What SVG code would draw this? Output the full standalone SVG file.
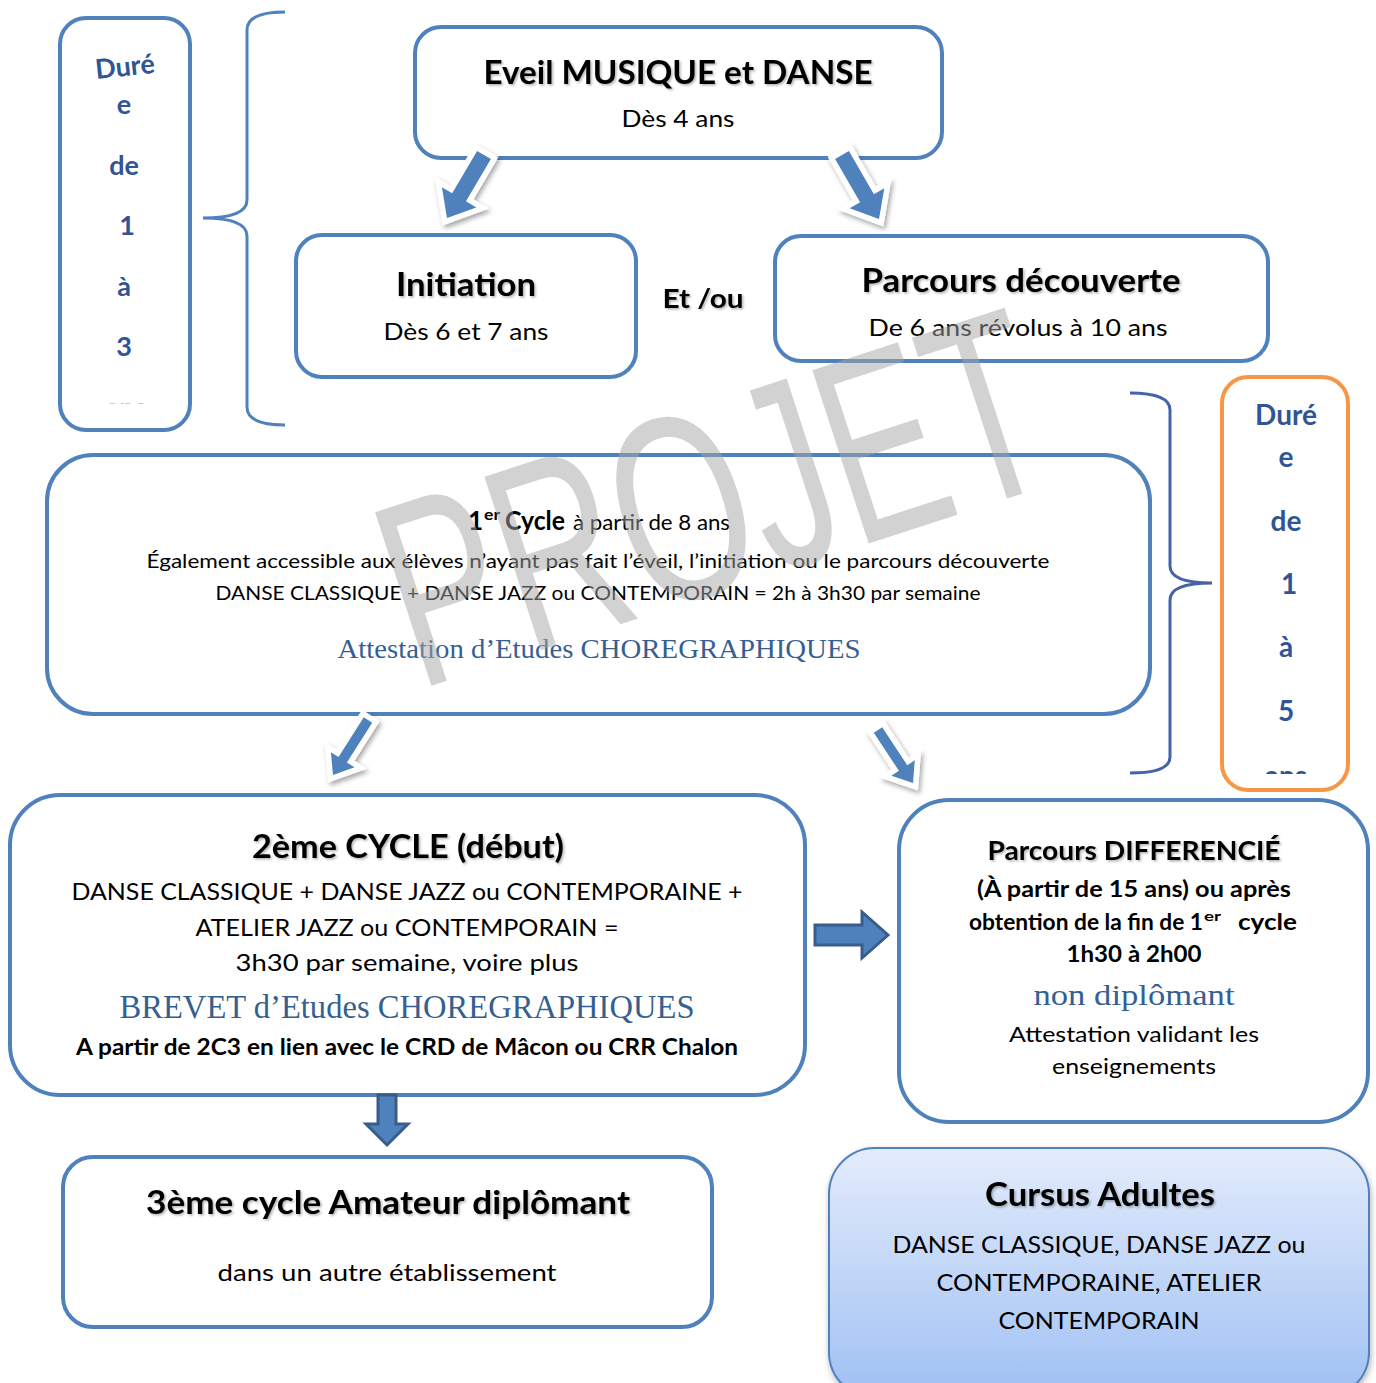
<svg xmlns="http://www.w3.org/2000/svg" width="1376" height="1383" viewBox="0 0 1376 1383">
<style>
.box{fill:#fff;stroke:#4f81bd;stroke-width:4}
.t{font-family:Lato,Carlito,'Liberation Sans',sans-serif;fill:#000;text-anchor:middle}
.st{text-anchor:start}
.b{font-weight:bold}
.h{font-size:32px;font-weight:bold;filter:url(#tsh)}
.s{font-family:'Liberation Serif',serif;fill:#365f91;text-anchor:middle}
.dur{font-family:Lato,Carlito,'Liberation Sans',sans-serif;font-weight:bold;fill:#2f5597;text-anchor:middle}
.br{fill:none;stroke-width:3}
.ba{fill:#4f81bd;stroke:#fff;stroke-width:11;paint-order:stroke;stroke-linejoin:miter;filter:url(#ash)}
.ga{fill:#4f81bd;stroke:#385d8a;stroke-width:3}
</style>
<defs>
<filter id="tsh" x="-10%" y="-30%" width="120%" height="160%"><feDropShadow dx="1.5" dy="1.5" stdDeviation="1" flood-color="#000" flood-opacity="0.3"/></filter>
<filter id="ash" x="-50%" y="-50%" width="200%" height="200%"><feDropShadow dx="2" dy="3" stdDeviation="2.5" flood-color="#000" flood-opacity="0.35"/></filter>
<filter id="bsh" x="-10%" y="-10%" width="120%" height="130%"><feDropShadow dx="1" dy="3" stdDeviation="3" flood-color="#000" flood-opacity="0.3"/></filter>
<linearGradient id="adg" x1="0" y1="0" x2="0" y2="1"><stop offset="0" stop-color="#e3ecfb"/><stop offset="1" stop-color="#9fc0f4"/></linearGradient>
<clipPath id="clL"><rect x="62" y="20" width="126" height="384"/></clipPath>
<clipPath id="clR"><rect x="1224" y="379" width="122" height="395"/></clipPath>
</defs>

<g id="duree-gauche">
<rect class="box" x="60" y="18" width="130" height="412" rx="26"/>
<g clip-path="url(#clL)" font-size="27">
<text class="dur" x="125" y="76" transform="rotate(-6 125 68)">Duré</text>
<text class="dur" x="124" y="114">e</text>
<text class="dur" x="124" y="175">de</text>
<text class="dur" x="127" y="235">1</text>
<text class="dur" x="124" y="296">à</text>
<text class="dur" x="124" y="356">3</text>
<text class="dur" x="126" y="417" fill-opacity="0.35">ans</text>
</g>
</g>

<g id="accolade-gauche"><path class="br" stroke="#4f81bd" d="M285,12 Q247,12 247,30 L247,200 Q247,218 203,218 Q247,218 247,236 L247,407 Q247,425 285,425"/></g>

<g id="eveil">
<rect class="box" x="415" y="27" width="527" height="131" rx="26"/>
<text class="t h" x="678" y="84" textLength="389" lengthAdjust="spacingAndGlyphs">Eveil MUSIQUE et DANSE</text>
<text class="t" x="678" y="127" font-size="24" textLength="113" lengthAdjust="spacingAndGlyphs">Dès 4 ans</text>
</g>

<g id="initiation">
<rect class="box" x="296" y="235" width="340" height="142" rx="26"/>
<text class="t h" x="466" y="296" textLength="140" lengthAdjust="spacingAndGlyphs">Initiation</text>
<text class="t" x="466" y="340" font-size="24" textLength="165" lengthAdjust="spacingAndGlyphs">Dès 6 et 7 ans</text>
</g>

<g id="etou"><text class="t b" x="703" y="308" font-size="26" textLength="81" lengthAdjust="spacingAndGlyphs" style="filter:url(#tsh)">Et /ou</text></g>

<g id="parcours-decouverte">
<rect class="box" x="775" y="236" width="493" height="125" rx="26"/>
<text class="t h" x="1021" y="292" textLength="319" lengthAdjust="spacingAndGlyphs">Parcours découverte</text>
<text class="t" x="1018" y="336" font-size="24" textLength="299" lengthAdjust="spacingAndGlyphs">De 6 ans révolus à 10 ans</text>
</g>

<g id="accolade-droite"><path class="br" stroke="#4562aa" d="M1130,393 Q1170,393 1170,410 L1170,566 Q1170,583 1212,583 Q1170,583 1170,600 L1170,757 Q1170,773 1130,773"/></g>

<g id="duree-droite">
<rect x="1222" y="377" width="126" height="413" rx="26" fill="#fff" stroke="#f79646" stroke-width="4"/>
<g clip-path="url(#clR)" font-size="28">
<text class="dur" x="1286" y="425">Duré</text>
<text class="dur" x="1286" y="467">e</text>
<text class="dur" x="1286" y="531">de</text>
<text class="dur" x="1289" y="594">1</text>
<text class="dur" x="1286" y="657">à</text>
<text class="dur" x="1286" y="721">5</text>
<text class="dur" x="1286" y="786">ans</text>
</g>
</g>

<g id="cycle1">
<rect class="box" x="47" y="455" width="1103" height="259" rx="46"/>
<text class="t st b" x="468" y="530" font-size="26">1</text>
<text class="t st b" x="484" y="520" font-size="15" textLength="16" lengthAdjust="spacingAndGlyphs">er</text>
<text class="t st b" x="505" y="530" font-size="26" textLength="60" lengthAdjust="spacingAndGlyphs">Cycle</text>
<text class="t st" x="573" y="530" font-size="21" textLength="157" lengthAdjust="spacingAndGlyphs">à partir de 8 ans</text>
<text class="t" x="598" y="568" font-size="20" textLength="903" lengthAdjust="spacingAndGlyphs">Également accessible aux élèves n’ayant pas fait l’éveil, l’initiation ou le parcours découverte</text>
<text class="t" x="598" y="600" font-size="20" textLength="765" lengthAdjust="spacingAndGlyphs">DANSE CLASSIQUE + DANSE JAZZ ou CONTEMPORAIN = 2h à 3h30 par semaine</text>
<text class="s" x="599" y="658" font-size="28" textLength="523" lengthAdjust="spacingAndGlyphs">Attestation d’Etudes CHOREGRAPHIQUES</text>
</g>

<g id="cycle2">
<rect class="box" x="10" y="795" width="795" height="300" rx="50"/>
<text class="t h" x="408" y="858" textLength="312" lengthAdjust="spacingAndGlyphs">2ème CYCLE (début)</text>
<text class="t" x="407" y="900" font-size="24" textLength="671" lengthAdjust="spacingAndGlyphs">DANSE CLASSIQUE + DANSE JAZZ ou CONTEMPORAINE +</text>
<text class="t" x="407" y="936" font-size="24" textLength="423" lengthAdjust="spacingAndGlyphs">ATELIER JAZZ ou CONTEMPORAIN =</text>
<text class="t" x="407" y="971" font-size="24" textLength="343" lengthAdjust="spacingAndGlyphs">3h30 par semaine, voire plus</text>
<text class="s" x="407" y="1018" font-size="34" textLength="575" lengthAdjust="spacingAndGlyphs">BREVET d’Etudes CHOREGRAPHIQUES</text>
<text class="t b" x="407" y="1055" font-size="22" textLength="662" lengthAdjust="spacingAndGlyphs">A partir de 2C3 en lien avec le CRD de Mâcon ou CRR Chalon</text>
</g>

<g id="parcours-differencie">
<rect class="box" x="899" y="800" width="469" height="322" rx="50"/>
<text class="t b" x="1134" y="860" font-size="27" textLength="293" lengthAdjust="spacingAndGlyphs" style="filter:url(#tsh)">Parcours DIFFERENCIÉ</text>
<text class="t b" x="1134" y="897" font-size="22" textLength="314" lengthAdjust="spacingAndGlyphs">(À partir de 15 ans) ou après</text>
<text class="t st b" x="969" y="930" font-size="22" textLength="234" lengthAdjust="spacingAndGlyphs">obtention de la fin de 1</text>
<text class="t st b" x="1204" y="921" font-size="14" textLength="17" lengthAdjust="spacingAndGlyphs">er</text>
<text class="t st b" x="1238" y="930" font-size="22" textLength="59" lengthAdjust="spacingAndGlyphs">cycle</text>
<text class="t b" x="1134" y="962" font-size="22" textLength="135" lengthAdjust="spacingAndGlyphs">1h30 à 2h00</text>
<text class="s" x="1134" y="1005" font-size="30" textLength="201" lengthAdjust="spacingAndGlyphs">non diplômant</text>
<text class="t" x="1134" y="1042" font-size="22" textLength="250" lengthAdjust="spacingAndGlyphs">Attestation validant les</text>
<text class="t" x="1134" y="1074" font-size="22" textLength="164" lengthAdjust="spacingAndGlyphs">enseignements</text>
</g>

<g id="cycle3">
<rect class="box" x="63" y="1157" width="649" height="170" rx="30"/>
<text class="t h" x="388" y="1214" textLength="484" lengthAdjust="spacingAndGlyphs">3ème cycle Amateur diplômant</text>
<text class="t" x="387" y="1281" font-size="24" textLength="339" lengthAdjust="spacingAndGlyphs">dans un autre établissement</text>
</g>

<g id="cursus-adultes">
<rect x="829" y="1148" width="540" height="250" rx="46" fill="url(#adg)" stroke="#4f81bd" stroke-width="2" filter="url(#bsh)"/>
<text class="t h" x="1100" y="1206" textLength="230" lengthAdjust="spacingAndGlyphs">Cursus Adultes</text>
<text class="t" x="1099" y="1253" font-size="24" textLength="413" lengthAdjust="spacingAndGlyphs">DANSE CLASSIQUE, DANSE JAZZ ou</text>
<text class="t" x="1099" y="1291" font-size="24" textLength="325" lengthAdjust="spacingAndGlyphs">CONTEMPORAINE, ATELIER</text>
<text class="t" x="1099" y="1329" font-size="24" textLength="201" lengthAdjust="spacingAndGlyphs">CONTEMPORAIN</text>
</g>

<g id="connecteurs">
<polygon class="ba" points="477.1,150.95 452.2,193.3 441.9,187.2 447,218 476.3,207.4 466,201.3 490.9,159.05"/>
<polygon class="ba" points="835.1,159 860.1,202.2 849.7,208.2 879,219 884.3,188.2 873.9,194.2 848.9,151"/>
<polygon class="ba" points="363.8,717.3 338.5,757.1 330.9,752.3 333,775 354.5,767.3 346.9,762.5 372.2,722.7"/>
<polygon class="ba" points="873.8,732.8 898.9,770.8 891.4,775.7 913,783 914.8,760.3 907.3,765.2 882.2,727.2"/>
<polygon class="ga" points="815,925 862,925 862,912 888,935 862,958 862,945 815,945"/>
<polygon class="ga" points="378,1095 396,1095 396,1124 408,1124 387,1145 366,1124 378,1124"/>
</g>

<g id="filigrane"><text x="0" y="0" transform="translate(418,690) rotate(-18)" font-family="'Liberation Sans',sans-serif" font-size="265" fill="#a6a6a6" fill-opacity="0.5" textLength="680" lengthAdjust="spacingAndGlyphs">PROJET</text></g>
</svg>
